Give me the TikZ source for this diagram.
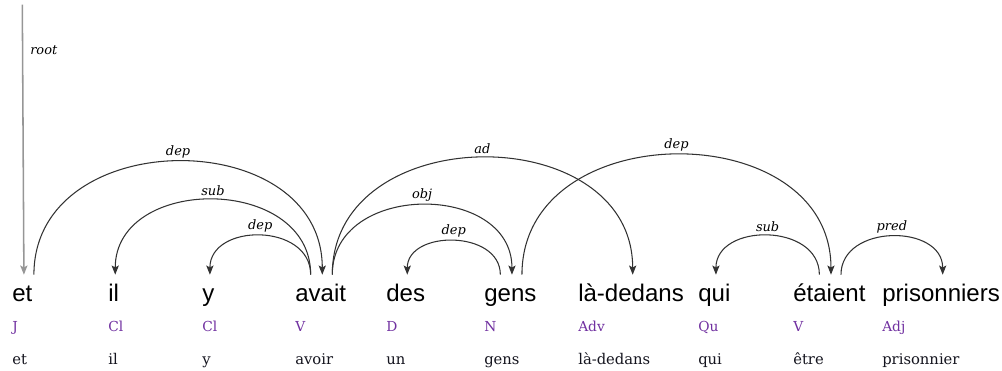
\documentclass[tikz,border=0pt]{standalone}
\usepackage{fontspec}
\newfontfamily\wordfont{Liberation Sans}
\newfontfamily\dvserif{DejaVu Serif}
\definecolor{tagpurple}{RGB}{112,48,160}
\definecolor{arcgray}{RGB}{50,50,50}
\definecolor{rootgray}{RGB}{150,150,150}
\definecolor{lemmablack}{RGB}{20,20,30}
\usepackage{tikz}
\usetikzlibrary{arrows.meta}

\begin{document}
\begin{tikzpicture}[x=0.025cm, y=0.025cm,
    word/.style={anchor=base west, inner sep=0pt, text height=18.5pt, font=\wordfont\fontsize{17.1}{20}\selectfont},
    tag/.style={anchor=base west, inner sep=0pt, text=tagpurple, font=\dvserif\fontsize{9.8}{12}\selectfont},
    lemma/.style={anchor=base west, inner sep=0pt, text=lemmablack, font=\dvserif\fontsize{10.5}{12}\selectfont},
    arc/.style={-{Stealth[length=2.3mm, width=1.8mm, inset=0.5mm]}, line width=0.75pt, arcgray},
    rootarrow/.style={-{Stealth[length=2.3mm, width=1.8mm, inset=0.5mm]}, line width=1.1pt, rootgray},
    lbl/.style={font=\dvserif\itshape\fontsize{9.2}{11}\selectfont, inner sep=2.3pt, text=black}
]
\useasboundingbox (0,0) rectangle (1002,370);

% Words
\node[word] (et) at (12,69) {et};
\node[word] (il) at (108,69) {il};
\node[word] (y) at (202,69) {y};
\node[word] (avait) at (295,69) {avait};
\node[word] (des) at (386,69) {des};
\node[word] (gens) at (484,69) {gens};
\node[word] (ladedans) at (578,69) {là-dedans};
\node[word] (qui) at (698,69) {qui};
\node[word] (etaient) at (793,69) {étaient};
\node[word] (prisonniers) at (882,69) {prisonniers};

% Tags
\node[tag] (et-tag) at (12,39) {J};
\node[tag] (il-tag) at (108,39) {Cl};
\node[tag] (y-tag) at (202,39) {Cl};
\node[tag] (avait-tag) at (295,39) {V};
\node[tag] (des-tag) at (386,39) {D};
\node[tag] (gens-tag) at (484,39) {N};
\node[tag] (ladedans-tag) at (578,39) {Adv};
\node[tag] (qui-tag) at (698,39) {Qu};
\node[tag] (etaient-tag) at (793,39) {V};
\node[tag] (prisonniers-tag) at (882,39) {Adj};

% Lemmas
\node[lemma] (et-lem) at (12,6) {et};
\node[lemma] (il-lem) at (108,6) {il};
\node[lemma] (y-lem) at (202,6) {y};
\node[lemma] (avait-lem) at (295,6) {avoir};
\node[lemma] (des-lem) at (386,6) {un};
\node[lemma] (gens-lem) at (484,6) {gens};
\node[lemma] (ladedans-lem) at (578,6) {là-dedans};
\node[lemma] (qui-lem) at (698,6) {qui};
\node[lemma] (etaient-lem) at (793,6) {être};
\node[lemma] (prisonniers-lem) at (882,6) {prisonnier};

% Root
\coordinate (root-top) at ([yshift=6.75cm]et.north);
\draw[rootarrow] (root-top) -- ([xshift=0.4mm]et.north);
\node[lbl, anchor=west, inner sep=0pt] (root-lbl) at (30,320) {root};

% Arcs
\draw[arc] ([xshift=2.9mm]et.north) .. controls +(0,151) and +(0,151) .. ([xshift=0.4mm]avait.north) node[lbl, midway, above] {dep};
\draw[arc] ([xshift=-2.5mm]avait.north) .. controls +(0,100) and +(0,100) .. ([xshift=0.4mm]il.north) node[lbl, midway, above] {sub};
\draw[arc] ([xshift=-2.5mm]avait.north) .. controls +(0,52) and +(0,52) .. ([xshift=0.4mm]y.north) node[lbl, midway, above] {dep};
\draw[arc] ([xshift=2.9mm]avait.north) .. controls +(0,156) and +(0,156) .. ([xshift=0.4mm]ladedans.north) node[lbl, midway, above] {ad};
\draw[arc] ([xshift=2.9mm]avait.north) .. controls +(0,93) and +(0,93) .. ([xshift=0.4mm]gens.north) node[lbl, midway, above] {obj};
\draw[arc] ([xshift=-2.5mm]gens.north) .. controls +(0,45) and +(0,45) .. ([xshift=0.4mm]des.north) node[lbl, midway, above] {dep};
\draw[arc] ([xshift=2.9mm]gens.north) .. controls +(0,160) and +(0,160) .. ([xshift=0.4mm]etaient.north) node[lbl, midway, above] {dep};
\draw[arc] ([xshift=-2.5mm]etaient.north) .. controls +(0,52) and +(0,52) .. ([xshift=0.4mm]qui.north) node[lbl, midway, above] {sub};
\draw[arc] ([xshift=2.9mm]etaient.north) .. controls +(0,51) and +(0,51) .. ([xshift=0.4mm]prisonniers.north) node[lbl, midway, above] {pred};

\end{tikzpicture}
\end{document}
